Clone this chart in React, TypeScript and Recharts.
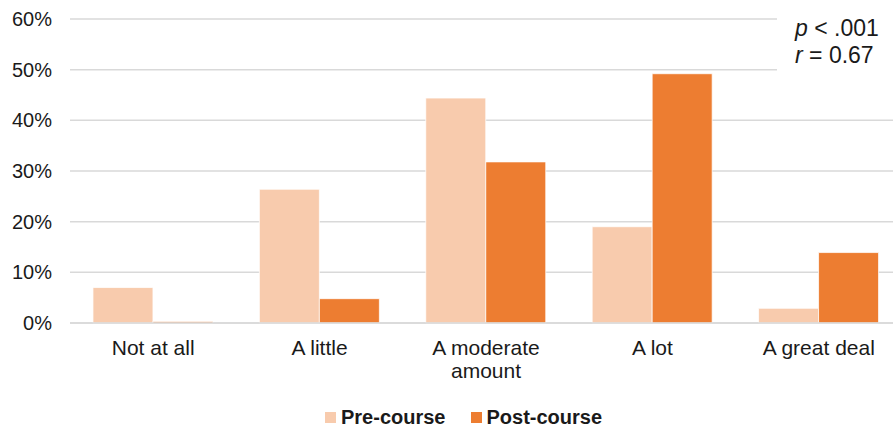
import React from "react";
import { BarChart, Bar, XAxis, YAxis, CartesianGrid, Legend, Text } from "recharts";

// Response categories and the share of respondents (%) in each
const categories = ["Not at all", "A little", "A moderate amount", "A lot", "A great deal"];
const preCourse = [7.0, 26.4, 44.4, 19.0, 2.9];
const postCourse = [0.3, 4.8, 31.8, 49.2, 13.9];
const yTicks = [0, 10, 20, 30, 40, 50, 60];

const seriesNames = { pre: "Pre-course", post: "Post-course" };
const PRE_COLOR = "#F8CBAD";
const POST_COLOR = "#ED7D31";
const FONT = "'Liberation Sans', Arial, sans-serif";

const data = categories.map((c, i) => ({
  category: c,
  pre: preCourse[i],
  post: postCourse[i],
}));

const CategoryTick = (props: any) => {
  const { x, y, payload } = props;
  return (
    <Text
      x={x}
      y={y + 17}
      width={135}
      textAnchor="middle"
      verticalAnchor="start"
      lineHeight={23}
      fontSize={21}
      fontFamily={FONT}
      style={{ fontSize: 21, fontFamily: FONT }}
      fill="#1a1a1a"
    >
      {payload.value}
    </Text>
  );
};

const LegendContent = () => (
  <div
    style={{
      display: "flex",
      alignItems: "center",
      height: 30,
      fontFamily: FONT,
      fontWeight: "bold",
      fontSize: 20,
      color: "#1a1a1a",
      whiteSpace: "nowrap",
    }}
  >
    <span style={{ display: "inline-block", width: 11, height: 11, background: PRE_COLOR, marginRight: 5 }} />
    <span>{seriesNames.pre}</span>
    <span style={{ display: "inline-block", width: 11, height: 11, background: POST_COLOR, marginLeft: 25, marginRight: 5 }} />
    <span>{seriesNames.post}</span>
  </div>
);

export default function App() {
  return (
    <div
      style={{
        position: "absolute",
        left: 0,
        top: 0,
        width: 893,
        height: 432,
        overflow: "hidden",
        background: "#fff",
        fontFamily: FONT,
      }}
    >
      <BarChart
        width={902}
        height={432}
        data={data}
        margin={{ top: 19, right: 0, bottom: 0, left: 0 }}
        barCategoryGap="13.8%"
        barGap={0}
      >
        <CartesianGrid vertical={false} stroke="#d9d9d9" strokeWidth={1.5} />
        <XAxis
          dataKey="category"
          interval={0}
          height={79}
          tickLine={false}
          tickSize={0}
          tickMargin={0}
          axisLine={{ stroke: "#d9d9d9", strokeWidth: 1.5 }}
          tick={<CategoryTick />}
        />
        <YAxis
          width={70}
          domain={[0, 60]}
          ticks={yTicks}
          interval={0}
          axisLine={false}
          tickLine={false}
          tickSize={0}
          tickMargin={18}
          tickFormatter={(v: number) => `${v}%`}
          tick={{ fontSize: 20, fill: "#1a1a1a", fontFamily: FONT }}
        />
        <Legend
          verticalAlign="bottom"
          height={30}
          content={<LegendContent />}
          wrapperStyle={{ left: 325, width: 300 }}
        />
        <Bar dataKey="pre" name={seriesNames.pre} fill={PRE_COLOR} stroke="#ffffff" strokeWidth={0.75} isAnimationActive={false} />
        <Bar dataKey="post" name={seriesNames.post} fill={POST_COLOR} stroke="#ffffff" strokeWidth={0.75} isAnimationActive={false} />
      </BarChart>
      <div
        style={{
          position: "absolute",
          left: 777,
          top: 0,
          width: 116,
          height: 80,
          background: "#fff",
          boxSizing: "border-box",
          paddingTop: 15,
          paddingLeft: 18,
          fontSize: 23,
          lineHeight: "26.7px",
          color: "#1a1a1a",
          whiteSpace: "nowrap",
        }}
      >
        <div>
          <i>p</i> &lt; .001
        </div>
        <div>
          <i>r</i> = 0.67
        </div>
      </div>
    </div>
  );
}
